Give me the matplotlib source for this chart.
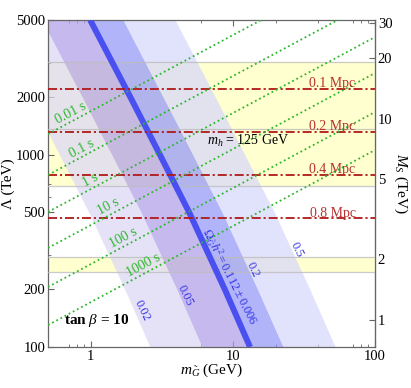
import matplotlib
matplotlib.use('Agg')
import matplotlib.pyplot as plt
import matplotlib.transforms as mtransforms
from matplotlib.ticker import FixedLocator, NullFormatter
import numpy as np

plt.rcParams['font.family'] = ['Liberation Serif', 'DejaVu Serif']
plt.rcParams['mathtext.fontset'] = 'custom'
plt.rcParams['mathtext.rm'] = 'Liberation Serif'
plt.rcParams['mathtext.it'] = 'Liberation Serif:italic'
plt.rcParams['mathtext.bf'] = 'Liberation Serif:bold'

# relic density contours: gravitino mass (GeV) at each Lambda (TeV)
lam_grid = [100, 200, 500, 1000, 2000, 5000]
m_om002 = [2.61, 1.73, 0.97, 0.60, 0.373, 0.195]
m_om005 = [6.07, 4.02, 2.26, 1.40, 0.866, 0.453]
m_om0112 = [13.2, 8.75, 4.93, 3.06, 1.89, 0.99]
m_om02 = [22.6, 14.9, 8.42, 5.22, 3.22, 1.69]
m_om05 = [52.5, 34.7, 19.6, 12.1, 7.49, 3.92]

# NLSP lifetime lines: Lambda at m = 0.5 GeV and m = 100 GeV
tau_labels = ['0.01 s', '0.1 s', '1 s', '10 s', '100 s', '1000 s']
tau_lam_left = [1278, 783, 503, 327, 205, 130]
tau_lam_right = [10360, 6346, 4077, 2650, 1662, 1055]
tau_label_m = [0.762, 0.911, 1.054, 1.41, 1.80, 2.49]

# free streaming length lines
mpc_labels = ['0.1 Mpc', '0.2 Mpc', '0.4 Mpc', '0.8 Mpc']
mpc_lam = [2189, 1313, 783, 466]

# Higgs mass bands (Lambda, TeV)
higgs_band = [686, 3034]
higgs_center = 1360
low_band = [246, 294]

# right axis M_S: log10(Lambda) = a + b log10(M_S)
a_ms, b_ms = 2.1403, 1.0445


def lam_to_ms(lam):
    lam = np.clip(np.asarray(lam, float), 1e-9, None)
    return 10 ** ((np.log10(lam) - a_ms) / b_ms)


def ms_to_lam(ms):
    ms = np.clip(np.asarray(ms, float), 1e-9, None)
    return 10 ** (a_ms + b_ms * np.log10(ms))


fig = plt.figure(figsize=(4.11, 3.88), dpi=100)
ax = fig.add_axes([48 / 411, 41 / 388, 327 / 411, 327 / 388])
ax.set_xscale('log')
ax.set_yscale('log')
ax.set_xlim(0.5, 100)
ax.set_ylim(100, 5000)

yellow = '#ffffcf'
ax.axhspan(higgs_band[0], higgs_band[1], color=yellow, lw=0, zorder=1)
ax.axhspan(low_band[0], low_band[1], color=yellow, lw=0, zorder=1)

alpha = 0.72
ax.fill_betweenx(lam_grid, m_om002, m_om005, color='#dcd8f6', alpha=alpha, lw=0, zorder=2)
ax.fill_betweenx(lam_grid, m_om005, m_om0112, color='#b09ee8', alpha=alpha, lw=0, zorder=2)
ax.fill_betweenx(lam_grid, m_om0112, m_om02, color='#9398f8', alpha=alpha, lw=0, zorder=2)
ax.fill_betweenx(lam_grid, m_om02, m_om05, color='#d6d8fb', alpha=alpha, lw=0, zorder=2)
ax.plot(m_om0112, lam_grid, color='#4a50f0', lw=4.3, zorder=4, solid_capstyle='butt')

for lv in higgs_band + [higgs_center] + low_band:
    ax.axhline(lv, color='#bdbdbd', lw=0.9, alpha=0.8, zorder=3)

for lam, lab in zip(mpc_lam, mpc_labels):
    ax.axhline(lam, color='#b01818', lw=1.3, ls=(0, (5, 1.6, 1.2, 1.6)), zorder=5)
    tr = mtransforms.offset_copy(ax.transData, fig, x=0, y=1.2, units='points')
    ax.text(73, lam, lab, color='#b83030', fontsize=10, ha='right', va='baseline',
            transform=tr, zorder=6)

green = '#2cb82c'
for lab, l0, l1, mx in zip(tau_labels, tau_lam_left, tau_lam_right, tau_label_m):
    ax.plot([0.5, 100], [l0, l1], color=green, lw=1.3, ls=(0, (1, 1.6)), zorder=5)
    p0 = ax.transData.transform((0.5, l0))
    p1 = ax.transData.transform((100, l1))
    ang = np.arctan2(p1[1] - p0[1], p1[0] - p0[0])
    frac = (np.log10(mx) - np.log10(0.5)) / (np.log10(100) - np.log10(0.5))
    ly = 10 ** (np.log10(l0) + frac * (np.log10(l1) - np.log10(l0)))
    tr = mtransforms.offset_copy(ax.transData, fig, x=-5.5 * np.sin(ang),
                                 y=5.5 * np.cos(ang), units='points')
    ax.text(mx, ly, lab, color=green, fontsize=10, rotation=np.degrees(ang),
            rotation_mode='anchor', ha='center', va='center', transform=tr, zorder=6)

blue_txt = '#3434e8'
ax.text(2.30, 154, '0.02', color=blue_txt, fontsize=9, rotation=-64,
        ha='center', va='center', zorder=6)
ax.text(4.61, 186, '0.05', color=blue_txt, fontsize=9, rotation=-64,
        ha='center', va='center', zorder=6)
ax.text(9.41, 231, r'$\Omega_{\tilde G}h^2 = 0.112 \pm 0.006$', color=blue_txt,
        fontsize=9, rotation=-63, ha='center', va='center', zorder=6)
ax.text(13.7, 251, '0.2', color=blue_txt, fontsize=9, rotation=-64,
        ha='center', va='center', zorder=6)
ax.text(28.3, 319, '0.5', color=blue_txt, fontsize=9, rotation=-64,
        ha='center', va='center', zorder=6)

ax.text(12.8, 1175, r'$m_h$ = 125 GeV', fontsize=10, ha='center', va='center', zorder=6)
ax.text(1.107, 136.5, r'tan $\beta$ = 10', fontsize=11, fontweight='bold',
        ha='center', va='center', zorder=6)

# axes and ticks
for sp in ax.spines.values():
    sp.set_color('#666666')
    sp.set_linewidth(0.9)
ax.set_xticks([1, 10, 100])
ax.set_xticklabels(['1', '10', '100'])
ax.xaxis.set_minor_locator(FixedLocator([0.7, 0.8, 0.9, 6, 20, 40, 70, 80, 90]))
ax.xaxis.set_minor_formatter(NullFormatter())
ax.set_yticks([100, 200, 500, 1000, 2000, 5000])
ax.set_yticklabels(['100', '200', '500', '1000', '2000', '5000'])
ax.yaxis.set_minor_locator(FixedLocator([300, 600, 700, 3000]))
ax.yaxis.set_minor_formatter(NullFormatter())
ax.tick_params(which='both', direction='in', top=True, right=False,
               color='#666666', labelsize=10.5, pad=2)
ax.tick_params(which='major', length=4)
ax.tick_params(which='minor', length=2.5)

sec = ax.secondary_yaxis('right', functions=(lam_to_ms, ms_to_lam))
sec.set_yticks([1, 2, 5, 10, 20, 30])
sec.set_yticklabels(['1', '2', '5', '10', '20', '30'])
sec.yaxis.set_minor_locator(FixedLocator([9]))
sec.yaxis.set_minor_formatter(NullFormatter())
sec.tick_params(which='both', direction='in', color='#666666', labelsize=10.5, pad=2)
sec.tick_params(which='major', length=4)
sec.tick_params(which='minor', length=2.5)
sec.spines['right'].set_color('#666666')
sec.set_ylabel(r'$M_S$ (TeV)', fontsize=11, rotation=-90, labelpad=12)

ax.set_xlabel(r'$m_{\tilde G}$ (GeV)', fontsize=11, labelpad=-1)
ax.set_ylabel('Λ (TeV)', fontsize=11, labelpad=1)

fig.savefig('out.png', dpi=100)
